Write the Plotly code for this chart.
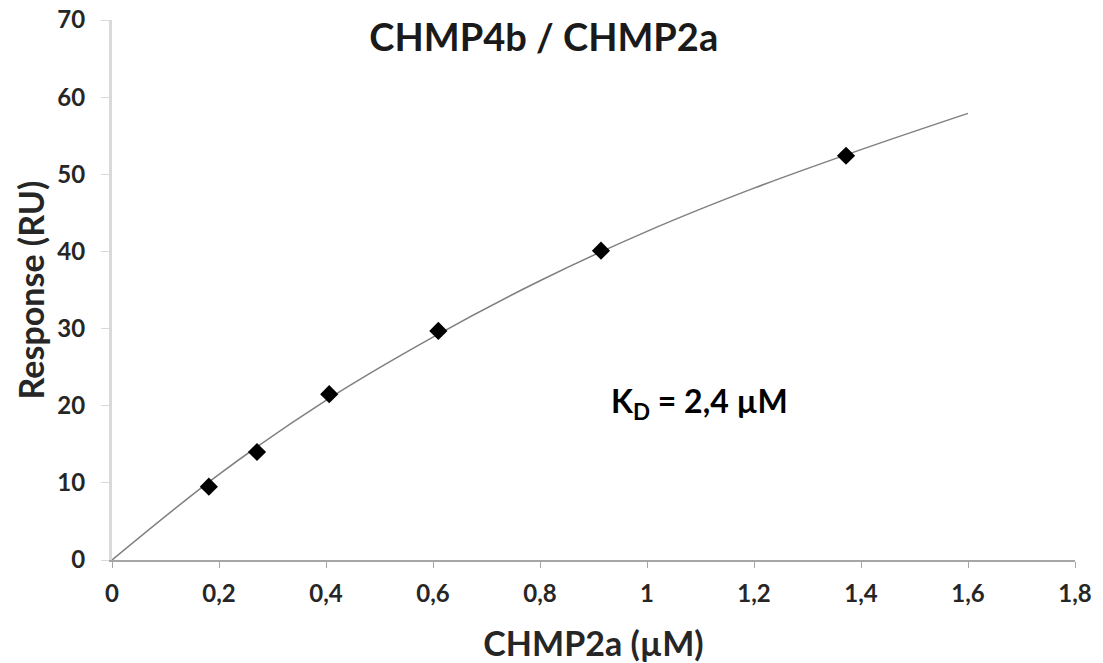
import plotly.graph_objects as go

# measured data points
conc = [0.181, 0.271, 0.406, 0.610, 0.914, 1.372]
response = [9.5, 14.0, 21.5, 29.7, 40.1, 52.4]

# fitted curve
fit_x = [0, 0.2, 0.4, 0.6, 0.8, 1.0, 1.2, 1.4, 1.6]
fit_y = [0, 11.1, 20.7, 28.9, 36.2, 42.6, 48.2, 53.2, 57.9]

x_ticks = [0, 0.2, 0.4, 0.6, 0.8, 1.0, 1.2, 1.4, 1.6, 1.8]
y_ticks = [0, 10, 20, 30, 40, 50, 60, 70]

FONT = "Lato"

fig = go.Figure()
fig.add_trace(go.Scatter(x=fit_x, y=fit_y, mode="lines",
                         line=dict(color="#7f7f7f", width=1.5, shape="spline"),
                         showlegend=False, hoverinfo="skip"))
fig.add_trace(go.Scatter(x=conc, y=response, mode="markers",
                         marker=dict(symbol="diamond", size=14, color="black"),
                         showlegend=False))

fig.update_layout(
    width=1103, height=663,
    margin=dict(l=112, r=28, t=20, b=103),
    paper_bgcolor="white", plot_bgcolor="white",
    separators=",.",
    font=dict(family=FONT, color="#262626"),
    title=dict(text="<b>CHMP4b / CHMP2a</b>", x=0.493, xanchor="center",
               y=0.943, yanchor="middle",
               font=dict(family=FONT, size=38, color="#1a1a1a")),
    xaxis=dict(range=[0, 1.8], tickvals=x_ticks, showgrid=False, zeroline=False,
               showline=True, linecolor="#a6a6a6", linewidth=2,
               ticks="outside", ticklen=6, tickcolor="#a6a6a6", tickwidth=1,
               ticklabelstandoff=5, ticklabeloverflow="allow",
               automargin=False,
               tickfont=dict(family=FONT, size=24, color="#262626", weight="bold"),
               title=dict(text="<b>CHMP2a (µM)</b>", standoff=26,
                          font=dict(family=FONT, size=34, color="#262626"))),
    yaxis=dict(range=[0, 70], tickvals=y_ticks, showgrid=False, zeroline=False,
               showline=True, linecolor="#d9d9d9", linewidth=3,
               ticks="outside", ticklen=8, tickcolor="#d9d9d9", tickwidth=1,
               ticklabelstandoff=11, ticklabeloverflow="allow",
               automargin=False,
               tickfont=dict(family=FONT, size=24, color="#262626", weight="bold"),
               title=dict(text="<b>Response (RU)</b>", standoff=3,
                          font=dict(family=FONT, size=34, color="#262626"))),
    annotations=[dict(text="<b>K<sub>D</sub> = 2,4 µM</b>", x=1.098, y=20.3,
                      xref="x", yref="y", showarrow=False, xanchor="center",
                      font=dict(family=FONT, size=32, color="black"))],
)
fig.write_html("out.html", config={"displayModeBar": False},
               post_script="document.body.style.margin='0';document.body.style.overflow='hidden';")
